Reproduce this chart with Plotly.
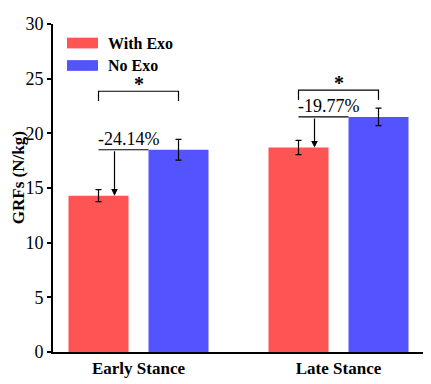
import plotly.graph_objects as go

categories = ["Early Stance", "Late Stance"]
series_names = ["With Exo", "No Exo"]
with_exo = [14.3, 18.7]
with_exo_err = [0.55, 0.65]
no_exo = [18.5, 21.5]
no_exo_err = [0.95, 0.8]
pct_labels = ["-24.14%", "-19.77%"]
sig_labels = ["*", "*"]
bracket_top = [23.85, 23.95]
bracket_leg = [22.95, 23.05]
y_ticks = [0, 5, 10, 15, 20, 25, 30]

RED = "#FF5454"
BLUE = "#5454FF"
FONT = "Liberation Serif"

xi = list(range(len(categories)))
fig = go.Figure()
fig.add_trace(go.Bar(
    x=xi, y=with_exo, name=series_names[0], marker_color=RED, marker_line_width=0,
    width=0.3, offset=-0.35,
    error_y=dict(type="data", array=with_exo_err, color="black", thickness=1.2, width=3),
    showlegend=False))
fig.add_trace(go.Bar(
    x=xi, y=no_exo, name=series_names[1], marker_color=BLUE, marker_line_width=0,
    width=0.3, offset=0.05,
    error_y=dict(type="data", array=no_exo_err, color="black", thickness=1.2, width=3),
    showlegend=False))

shapes = []
annotations = []
for i in xi:
    xr = i - 0.2
    xb = i + 0.2
    shapes.append(dict(type="path", xref="x", yref="y",
                       path=f"M {xr},{bracket_leg[i]} L {xr},{bracket_top[i]} L {xb},{bracket_top[i]} L {xb},{bracket_leg[i]}",
                       line=dict(color="black", width=1.2)))
    annotations.append(dict(x=i, y=bracket_top[i], xref="x", yref="y", text=f"<b>{sig_labels[i]}</b>",
                            showarrow=False, yanchor="bottom", yshift=-6,
                            font=dict(family=FONT, size=20, color="black")))
    shapes.append(dict(type="line", xref="x", yref="y", x0=xr, x1=i + 0.05,
                       y0=no_exo[i], y1=no_exo[i], line=dict(color="black", width=1.2)))
    annotations.append(dict(x=i - 0.12, y=with_exo[i], ax=i - 0.12, ay=no_exo[i],
                            xref="x", yref="y", axref="x", ayref="y", text="",
                            showarrow=True, arrowhead=2, arrowsize=1.1, arrowwidth=1.2,
                            arrowcolor="black"))
    annotations.append(dict(x=xr, y=no_exo[i], xref="x", yref="y", text=pct_labels[i],
                            showarrow=False, xanchor="left", yanchor="bottom", yshift=-1, xshift=-3,
                            font=dict(family=FONT, size=18, color="black")))

# legend (custom)
leg_items = [(series_names[0], RED, 0), (series_names[1], BLUE, 1)]
for name, col, k in leg_items:
    y0 = 1 - (33 + 23 * k - 19) / 336
    y1 = 1 - (44 + 23 * k - 19) / 336
    shapes.append(dict(type="rect", xref="paper", yref="paper",
                       x0=(67 - 53) / 372, x1=(98 - 53) / 372, y0=y1, y1=y0,
                       fillcolor=col, line=dict(width=0)))
    annotations.append(dict(x=(106 - 53) / 372, y=(y0 + y1) / 2, xref="paper", yref="paper",
                            text=f"<b>{name}</b>", showarrow=False, xanchor="left", yanchor="middle",
                            font=dict(family=FONT, size=16, color="black")))

annotations.append(dict(x=(18 - 53) / 372, y=1 - (177 - 19) / 336, xref="paper", yref="paper",
                        text="<b>GRFs (N/kg)</b>", showarrow=False, textangle=-90,
                        xanchor="center", yanchor="middle",
                        font=dict(family=FONT, size=17, color="black")))

# page body adds an 8px margin, so the figure is 8px smaller and margins shifted
fig.update_layout(
    width=423, height=376,
    margin=dict(l=45, r=6, t=11, b=29),
    plot_bgcolor="white", paper_bgcolor="white",
    barmode="overlay",
    shapes=shapes, annotations=annotations,
    font=dict(family=FONT, color="black"),
)
fig.update_xaxes(range=[-0.4275, 1.4325], tickvals=xi, ticktext=[f"<b>{c}</b>" for c in categories],
                 showline=True, linecolor="black", linewidth=2, ticks="", showgrid=False,
                 zeroline=False, tickfont=dict(family=FONT, size=17, color="black"))
fig.update_yaxes(range=[0, 30], tickvals=y_ticks, showline=True, linecolor="black", linewidth=2,
                 ticks="outside", ticklen=4, tickwidth=1.5, tickcolor="black", showgrid=False,
                 zeroline=False, tickfont=dict(family=FONT, size=18, color="black"))

fig.write_html("out.html")
